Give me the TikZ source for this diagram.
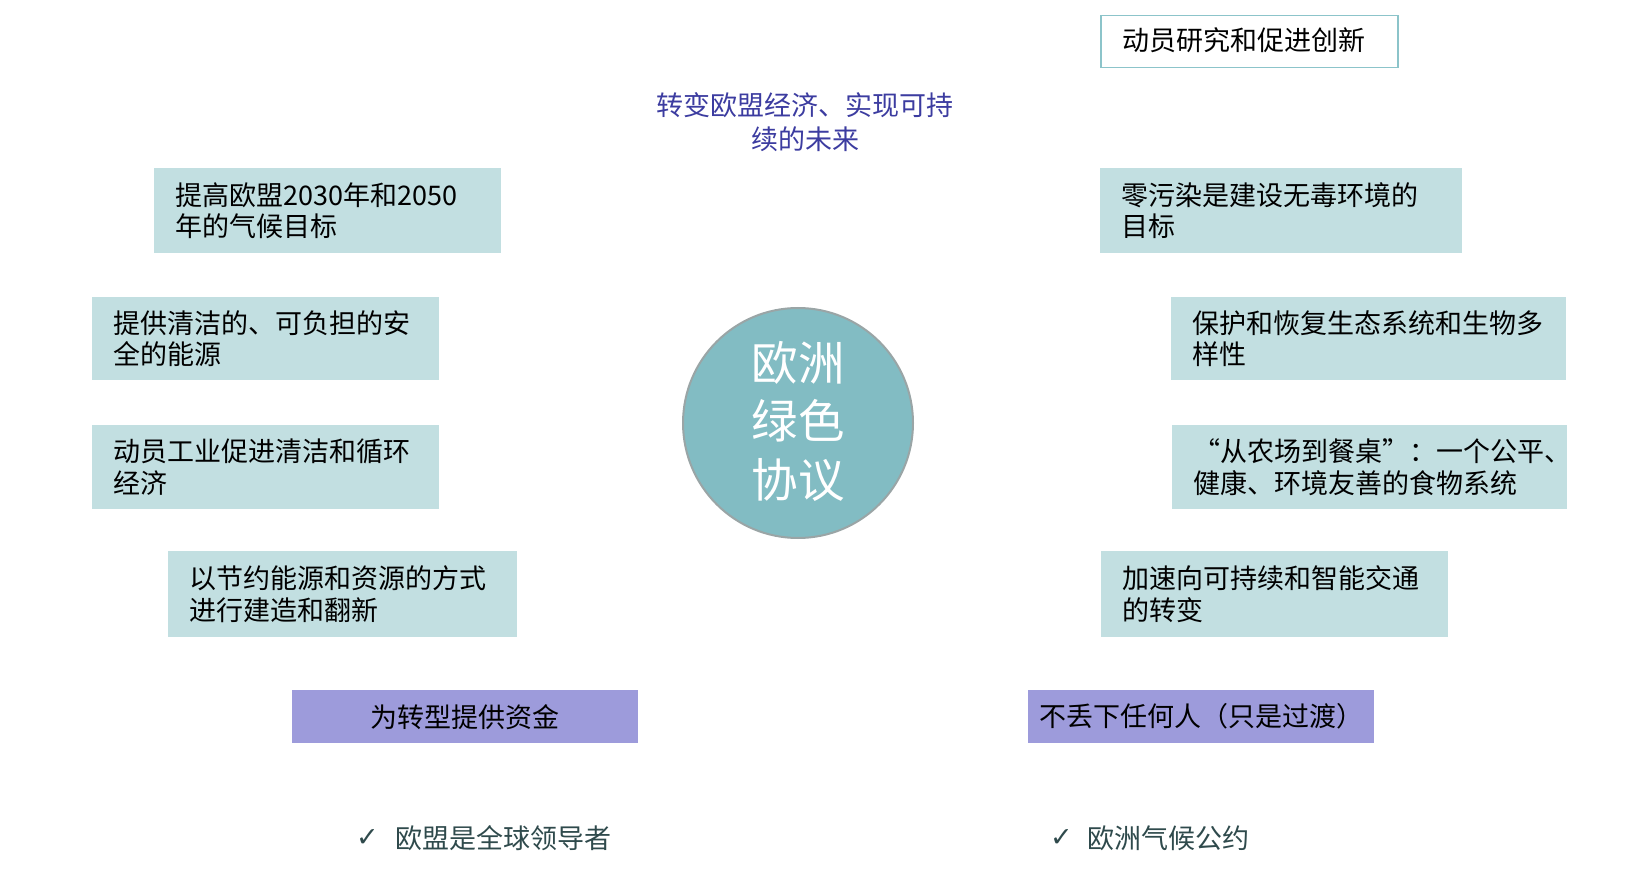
\documentclass[tikz,border=0pt]{standalone}
\usepackage{fontspec}
\setmainfont{Noto Sans CJK SC}
\newfontfamily\symfont{DejaVu Sans}
\definecolor{boxteal}{HTML}{C2DFE1}
\definecolor{boxpurple}{HTML}{9D9BDB}
\definecolor{circfill}{HTML}{82BCC3}
\definecolor{circline}{HTML}{9AA5A6}
\definecolor{topline}{HTML}{8CC4CA}
\definecolor{titleblue}{HTML}{3C3CA0}
\definecolor{checkdark}{HTML}{2F4A4C}
\begin{document}
\begin{tikzpicture}[x=1pt,y=-1pt,
  gbox/.style={fill=boxteal,draw=none,anchor=north west,inner xsep=21pt,inner ysep=0pt,align=left,
    font=\fontsize{27}{31.6}\selectfont,text=black},
  pbox/.style={fill=boxpurple,draw=none,anchor=north west,inner sep=0pt,align=center,
    font=\fontsize{27}{31.6}\selectfont,text=black,minimum height=53pt},
  checkmk/.style={anchor=west,inner sep=0pt,text=checkdark,font=\symfont\fontsize{27}{30}\selectfont},
  checkitem/.style={anchor=west,inner sep=0pt,font=\fontsize{27}{31.6}\selectfont,text=checkdark}]
\useasboundingbox (0,0) rectangle (1650,874);
% top box
\node[draw=topline,line width=1.5pt,fill=white,anchor=north west,minimum width=297pt,minimum height=52pt,inner sep=0pt] (top) at (1100,15) {};
\node[anchor=west,inner sep=0pt,font=\fontsize{27}{31.6}\selectfont] (toptext) at (1122,40) {动员研究和促进创新};
% title
\node[align=center,inner sep=0pt,font=\fontsize{27}{33.5}\selectfont,text=titleblue] (title) at (805,122) {转变欧盟经济、实现可持\\续的未来};
% circle
\node[circle,fill=circfill,draw=circline,line width=2pt,minimum size=230pt,inner sep=0pt] (c) at (798,423) {};
\node[align=center,inner sep=0pt,text=white,font=\fontsize{46.5}{58.5}\selectfont] (ctext) at (798,421) {欧洲\\绿色\\协议};
% left boxes
\node[gbox,text width=305pt,minimum height=85pt] (l1) at (154,168) {提高欧盟2030年和2050\\年的气候目标};
\node[gbox,text width=305pt,minimum height=83pt] (l2) at (92,297) {提供清洁的、可负担的安\\全的能源};
\node[gbox,text width=305pt,minimum height=84pt] (l3) at (92,425) {动员工业促进清洁和循环\\经济};
\node[gbox,text width=307pt,minimum height=86pt] (l4) at (168,551) {以节约能源和资源的方式\\进行建造和翻新};
% right boxes
\node[gbox,text width=320pt,minimum height=85pt] (r1) at (1100,168) {零污染是建设无毒环境的\\目标};
\node[gbox,text width=353pt,minimum height=83pt] (r2) at (1171,297) {保护和恢复生态系统和生物多\\样性};
\node[gbox,text width=353pt,minimum height=84pt] (r3) at (1172,425) {“从农场到餐桌”：一个公平、\\健康、环境友善的食物系统};
\node[gbox,text width=305pt,minimum height=86pt] (r4) at (1101,551) {加速向可持续和智能交通\\的转变};
% purple boxes
\node[pbox,text width=346pt] (pl) at (292,690) {为转型提供资金};
\node[pbox,text width=346pt] (pr) at (1028,690) {不丢下任何人（只是过渡）};
% check items
\node[checkmk] (ck1) at (356,838) {✓};
\node[checkitem] (t1) at (395,838) {欧盟是全球领导者};
\node[checkmk] (ck2) at (1050,838) {✓};
\node[checkitem] (t2) at (1087,838) {欧洲气候公约};
\end{tikzpicture}
\end{document}
